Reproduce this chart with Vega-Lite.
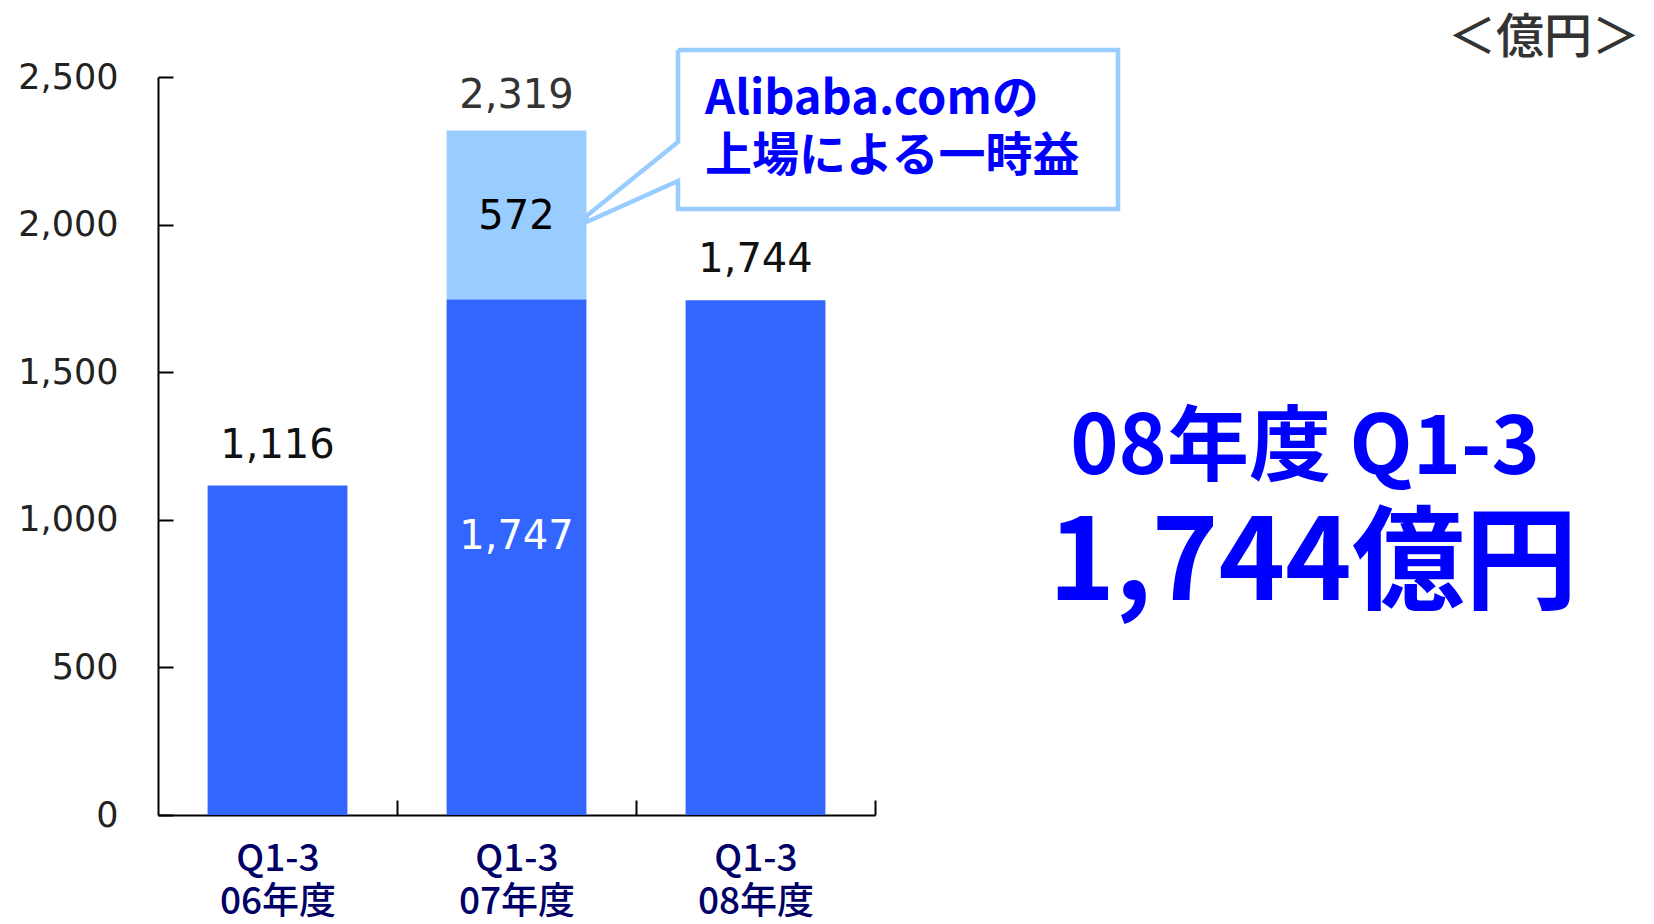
{
  "$schema": "https://vega.github.io/schema/vega-lite/v6.json",
  "width": 1496,
  "height": 738,
  "autosize": "none",
  "padding": {"left": 158, "top": 77, "right": 0, "bottom": 109},
  "background": "white",
  "config": {"view": {"stroke": null}},
  "datasets": {
    "sales": [
      {"period": "Q1-3 06年度", "segment": "base", "value": 1116},
      {"period": "Q1-3 07年度", "segment": "base", "value": 1747},
      {"period": "Q1-3 07年度", "segment": "gain", "value": 572},
      {"period": "Q1-3 08年度", "segment": "base", "value": 1744}
    ],
    "callout": [
      {"i": 1, "x": 2.1757, "value": 2591.5},
      {"i": 2, "x": 4.0167, "value": 2591.5},
      {"i": 3, "x": 4.0167, "value": 2052.8},
      {"i": 4, "x": 2.1757, "value": 2052.8},
      {"i": 5, "x": 2.1757, "value": 2147.7},
      {"i": 6, "x": 1.7925, "value": 2009},
      {"i": 7, "x": 1.7925, "value": 2029},
      {"i": 8, "x": 2.1757, "value": 2279.8},
      {"i": 9, "x": 2.1757, "value": 2591.5}
    ],
    "calloutText": [
      {"text": "Alibaba.comの", "x": 2.2887, "value": 2422},
      {"text": "上場による一時益", "x": 2.2887, "value": 2229}
    ],
    "headline": [{"text": "08年度 Q1-3", "x": 4.799, "value": 1240}],
    "bigValue": [{"text": "1,744億円", "x": 4.833, "value": 845}],
    "unit": [{"text": "＜億円＞", "x": 6.2008, "value": 2630}]
  },
  "layer": [
    {
      "data": {"name": "sales"},
      "encoding": {
        "x": {
          "field": "period",
          "type": "nominal",
          "sort": ["Q1-3 06年度", "Q1-3 07年度", "Q1-3 08年度"],
          "scale": {
            "domain": ["Q1-3 06年度", "Q1-3 07年度", "Q1-3 08年度"],
            "range": [0, 717],
            "paddingInner": 0.415,
            "paddingOuter": 0.2075
          },
          "axis": {
            "title": null,
            "labelAngle": 0,
            "labelExpr": "split(datum.label, ' ')",
            "labelFont": "Noto Sans CJK JP",
            "labelFontSize": 37,
            "labelFontWeight": 500,
            "labelColor": "#000066",
            "labelLineHeight": 43,
            "labelPadding": 41,
            "tickBand": "center",
            "tickOffset": 119.5,
            "labelOffset": -119.5,
            "tickSize": -15,
            "tickWidth": 2,
            "tickColor": "#000000",
            "domainColor": "#000000",
            "domainWidth": 2
          }
        },
        "y": {
          "field": "value",
          "type": "quantitative",
          "scale": {"domain": [0, 2500], "nice": false},
          "axis": {
            "title": null,
            "values": [0, 500, 1000, 1500, 2000, 2500],
            "format": ",",
            "labelExpr": "format(datum.value, ',')",
            "grid": false,
            "labelFont": "DejaVu Sans",
            "labelFontSize": 35,
            "labelColor": "#222222",
            "labelPadding": 55,
            "tickSize": -15,
            "tickWidth": 2,
            "tickColor": "#000000",
            "domainColor": "#000000",
            "domainWidth": 2
          }
        }
      },
      "layer": [
        {
          "mark": {"type": "bar"},
          "encoding": {
            "y": {"field": "value", "type": "quantitative", "stack": "zero"},
            "color": {
              "field": "segment",
              "type": "nominal",
              "scale": {"domain": ["base", "gain"], "range": ["#3366FF", "#99CCFF"]},
              "legend": null
            },
            "order": {"field": "segment", "sort": "ascending"}
          }
        },
        {
          "transform": [
            {"aggregate": [{"op": "sum", "field": "value", "as": "total"}], "groupby": ["period"]},
            {"filter": "datum.period !== 'Q1-3 07年度'"}
          ],
          "mark": {"type": "text", "font": "DejaVu Sans", "fontSize": 40, "baseline": "middle", "dy": -40, "color": "#111111"},
          "encoding": {
            "y": {"field": "total", "type": "quantitative"},
            "text": {"field": "total", "type": "quantitative", "format": ","}
          }
        },
        {
          "transform": [
            {"aggregate": [{"op": "sum", "field": "value", "as": "total"}], "groupby": ["period"]},
            {"filter": "datum.period === 'Q1-3 07年度'"}
          ],
          "mark": {"type": "text", "font": "DejaVu Sans", "fontSize": 40, "baseline": "middle", "dy": -34, "color": "#333333"},
          "encoding": {
            "y": {"field": "total", "type": "quantitative"},
            "text": {"field": "total", "type": "quantitative", "format": ","}
          }
        },
        {
          "transform": [
            {"stack": "value", "groupby": ["period"], "sort": [{"field": "segment", "order": "ascending"}], "as": ["v0", "v1"]},
            {"filter": "datum.segment === 'gain'"}
          ],
          "mark": {"type": "text", "font": "DejaVu Sans", "fontSize": 40, "baseline": "middle", "dy": 87, "color": "#000000"},
          "encoding": {
            "y": {"field": "v1", "type": "quantitative"},
            "text": {"field": "value", "type": "quantitative", "format": ","}
          }
        },
        {
          "transform": [
            {"filter": "datum.segment === 'base' && datum.period === 'Q1-3 07年度'"}
          ],
          "mark": {"type": "text", "font": "DejaVu Sans", "fontSize": 40, "baseline": "middle", "dy": 238, "color": "#FFFFFF"},
          "encoding": {
            "y": {"field": "value", "type": "quantitative"},
            "text": {"field": "value", "type": "quantitative", "format": ","}
          }
        }
      ]
    },
    {
      "encoding": {
        "x": {"field": "x", "type": "quantitative", "scale": {"domain": [0, 6.2594], "nice": false, "zero": false}, "axis": null},
        "y": {
          "field": "value",
          "type": "quantitative",
          "scale": {"domain": [0, 2500], "nice": false},
          "axis": {
            "title": null,
            "values": [0, 500, 1000, 1500, 2000, 2500],
            "format": ",",
            "labelExpr": "format(datum.value, ',')",
            "grid": false,
            "labelFont": "DejaVu Sans",
            "labelFontSize": 35,
            "labelColor": "#222222",
            "labelPadding": 55,
            "tickSize": -15,
            "tickWidth": 2,
            "tickColor": "#000000",
            "domainColor": "#000000",
            "domainWidth": 2
          }
        }
      },
      "layer": [
        {
          "data": {"name": "callout"},
          "mark": {"type": "line", "stroke": "#99CCFF", "strokeWidth": 4.5, "strokeJoin": "miter", "strokeCap": "butt"},
          "encoding": {"order": {"field": "i", "type": "quantitative"}}
        },
        {
          "data": {"name": "calloutText"},
          "mark": {"type": "text", "font": "Noto Sans CJK JP", "fontWeight": "bold", "fontSize": 47, "align": "left", "baseline": "middle", "color": "#0000FF"},
          "encoding": {"text": {"field": "text"}}
        },
        {
          "data": {"name": "headline"},
          "mark": {"type": "text", "font": "Noto Sans CJK JP", "fontWeight": "bold", "fontSize": 82, "align": "center", "baseline": "middle", "color": "#0000FF"},
          "encoding": {"text": {"field": "text"}}
        },
        {
          "data": {"name": "bigValue"},
          "mark": {"type": "text", "font": "Noto Sans CJK JP", "fontWeight": "bold", "fontSize": 113, "align": "center", "baseline": "middle", "color": "#0000FF"},
          "encoding": {"text": {"field": "text"}}
        },
        {
          "data": {"name": "unit"},
          "mark": {"type": "text", "font": "Noto Sans CJK JP", "fontWeight": 500, "fontSize": 48, "align": "right", "baseline": "middle", "color": "#333333"},
          "encoding": {"text": {"field": "text"}}
        }
      ]
    }
  ],
  "resolve": {"scale": {"x": "independent"}}
}
